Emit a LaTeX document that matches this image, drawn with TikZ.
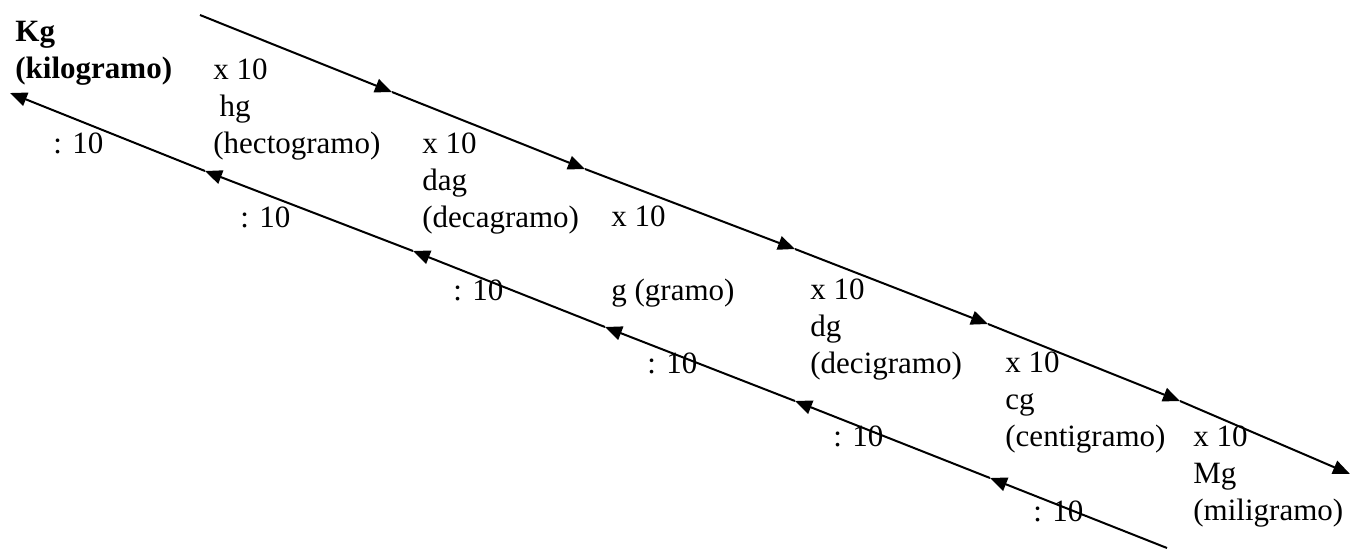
\documentclass[tikz,border=0pt]{standalone}
\usepackage{fontspec}
\setmainfont{Liberation Serif}
\usetikzlibrary{arrows.meta}

\begin{document}
\begin{tikzpicture}[
  x=0.5pt,y=-0.5pt,
  txt/.style={font=\fontsize{15.5}{18.35}\selectfont},
  un/.style={txt,anchor=base west,inner sep=0pt,align=left},
  dv/.style={txt,anchor=base west,inner sep=0pt},
  ar/.style={-{Triangle[length=8.5pt,width=7pt]},line width=1pt}
]
\useasboundingbox (0,0) rectangle (1350,548);
% units and x 10 labels (anchored at last baseline)
\node[un,font=\fontsize{15.5}{18.35}\selectfont\bfseries] (kg) at (15,78) {Kg\\(kilogramo)};
\node[un] (hg) at (213,153) {x 10\\\hspace*{0.2em}hg\\(hectogramo)};
\node[un] (dag) at (422,227) {x 10\\dag\\(decagramo)};
\node[un] (g) at (611,300) {x 10\\[18.35pt]g (gramo)};
\node[un] (dg) at (810,373) {x 10\\dg\\(decigramo)};
\node[un] (cg) at (1005,446) {x 10\\cg\\(centigramo)};
\node[un] (mg) at (1193,520) {x 10\\Mg\\(miligramo)};
% : 10 labels
\node[dv] (d1) at (53,153) {: 10};
\node[dv] (d2) at (240,227) {: 10};
\node[dv] (d3) at (453,300) {: 10};
\node[dv] (d4) at (647,373) {: 10};
\node[dv] (d5) at (833,446) {: 10};
\node[dv] (d6) at (1033,521) {: 10};
% multiplying line
\coordinate (u0) at (200,15); \coordinate (u1) at (392,92);
\coordinate (u2) at (585,169); \coordinate (u3) at (795,249);
\coordinate (u4) at (988,324); \coordinate (u5) at (1180,401);
\coordinate (u6) at (1350,474);
\draw[ar](u0)--(u1); \draw[ar](u1)--(u2); \draw[ar](u2)--(u3);
\draw[ar](u3)--(u4); \draw[ar](u4)--(u5); \draw[ar](u5)--(u6);
% dividing line
\coordinate (l0) at (1167,548); \coordinate (l1) at (990,478);
\coordinate (l2) at (795,401); \coordinate (l3) at (605,327);
\coordinate (l4) at (413,251); \coordinate (l5) at (205,171);
\coordinate (l6) at (10,93);
\draw[ar](l0)--(l1); \draw[ar](l1)--(l2); \draw[ar](l2)--(l3);
\draw[ar](l3)--(l4); \draw[ar](l4)--(l5); \draw[ar](l5)--(l6);
\end{tikzpicture}
\end{document}
